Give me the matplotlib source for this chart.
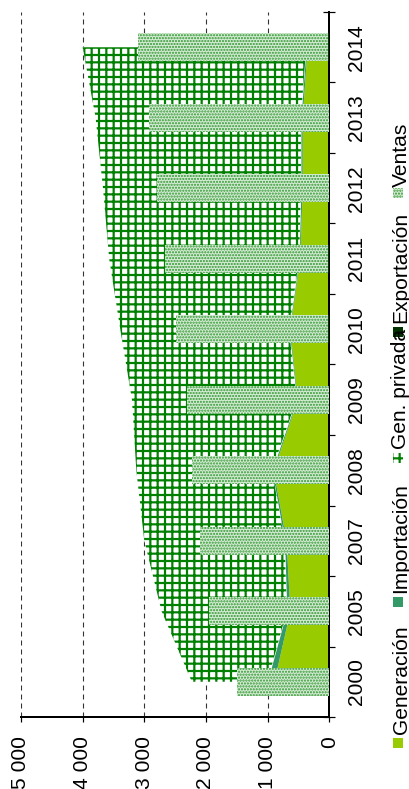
import matplotlib
matplotlib.use("Agg")
import matplotlib.pyplot as plt
from matplotlib.patches import Rectangle
from matplotlib.ticker import FuncFormatter
import numpy as np

# data
years = ["2000", "2005", "2007", "2008", "2009", "2010", "2011", "2012", "2013", "2014"]
generacion = [900, 640, 700, 910, 520, 640, 480, 440, 440, 360]
importacion = [105, 50, 25, 20, 10, 10, 10, 20, 20, 15]
gen_privada = [1225, 2030, 2275, 2200, 2670, 2740, 3080, 3210, 3330, 3625]
exportacion = [0, 0, 0, 0, 0, 25, 25, 0, 0, 20]
ventas = [1500, 1950, 2100, 2220, 2300, 2465, 2635, 2800, 2930, 3080]

C_GEN = "#99cc00"
C_IMP = "#339966"
C_PRIV = "#008000"
C_EXP = "#003300"
C_VEN = "#2f962f"
C_VEN_BG = "#d4ebd4"

DPI = 88
W, H = 409, 789
FS = 17.2

plt.rcParams["font.family"] = ["Liberation Sans", "DejaVu Sans"]
plt.rcParams["hatch.linewidth"] = 1.8
plt.rcParams["lines.scale_dashes"] = False


def pt(px):
    return px * 72.0 / DPI


def fx(px):
    return px / W


def fy(py):
    return 1 - py / H


def thin_dots(artist):
    if hasattr(artist, "set_hatch_linewidth"):
        artist.set_hatch_linewidth(1.2)


fig = plt.figure(figsize=(W / DPI, H / DPI), dpi=DPI)
ax = fig.add_axes([fx(21), fy(717), (329.3 - 21) / W, (717 - 12) / H])

y = np.arange(len(years))
g = np.array(generacion)
imp = np.array(importacion)
priv = np.array(gen_privada)

# stacked areas
ax.fill_betweenx(y, 0, g, color=C_GEN, lw=0, zorder=2)
ax.fill_betweenx(y, g, g + imp, color=C_IMP, lw=0, zorder=2)
ax.fill_betweenx(y, g + imp, g + imp + priv, facecolor="white",
                 edgecolor=C_PRIV, hatch="++", lw=0, zorder=2)

# stacked columns
ax.barh(y, exportacion, height=0.4, color=C_EXP, lw=0, zorder=3)
vb = ax.barh(y, ventas, left=exportacion, height=0.4, facecolor=C_VEN_BG,
             edgecolor=C_VEN, hatch=".....", lw=0, zorder=3)
for b in vb:
    thin_dots(b)

ax.set_xlim(5000, 0)
ax.set_ylim(-0.5, 9.5)

ax.set_xticks(range(0, 5001, 1000))
ax.xaxis.set_major_formatter(FuncFormatter(lambda v, p: f"{int(v):,}".replace(",", " ")))
ax.tick_params(axis="x", direction="out", length=pt(5), width=pt(1.2), pad=pt(14),
               labelsize=FS, labelrotation=90)

ax.yaxis.tick_right()
ax.set_yticks(np.arange(-0.5, 10, 1))
ax.set_yticklabels([])
ax.set_yticks(y, labels=years, minor=True)
ax.tick_params(axis="y", which="major", direction="inout", length=pt(12), width=pt(1.2))
ax.tick_params(axis="y", which="minor", length=0, pad=pt(18), labelsize=FS,
               labelrotation=90, right=True, left=False)
for lab in ax.get_yticklabels(minor=True):
    lab.set_va("center")

ax.set_axisbelow(True)
ax.xaxis.grid(True, color="#333333", lw=pt(1.1), ls=(0, (pt(5), pt(4))))
ax.yaxis.grid(False)

for s in ["top", "left"]:
    ax.spines[s].set_visible(False)
for s in ["right", "bottom"]:
    ax.spines[s].set_linewidth(pt(2))
    ax.spines[s].set_color("black")

# legend, drawn by hand because it is rotated
legend_items = [
    ("Generación", 748, 734, dict(facecolor=C_GEN, lw=0)),
    ("Importación", 607, 593, dict(facecolor=C_IMP, lw=0)),
    ("Gen. privada", 463, 449, dict(facecolor="white", edgecolor=C_PRIV, hatch="++", lw=0)),
    ("Exportación", 337, 323, dict(facecolor=C_EXP, lw=0)),
    ("Ventas", 198, 187, dict(facecolor=C_VEN_BG, edgecolor=C_VEN, hatch=".....", lw=0)),
]
for label, sq_bottom, txt_start, style in legend_items:
    r = Rectangle((fx(393), fy(sq_bottom)), 10 / W, 10 / H,
                  transform=fig.transFigure, **style)
    if label == "Ventas":
        thin_dots(r)
    fig.add_artist(r)
    fig.text(fx(406.5), fy(txt_start), label, rotation=90, rotation_mode="anchor",
             ha="left", va="baseline", fontsize=FS)

fig.savefig("out.png", dpi=DPI)
